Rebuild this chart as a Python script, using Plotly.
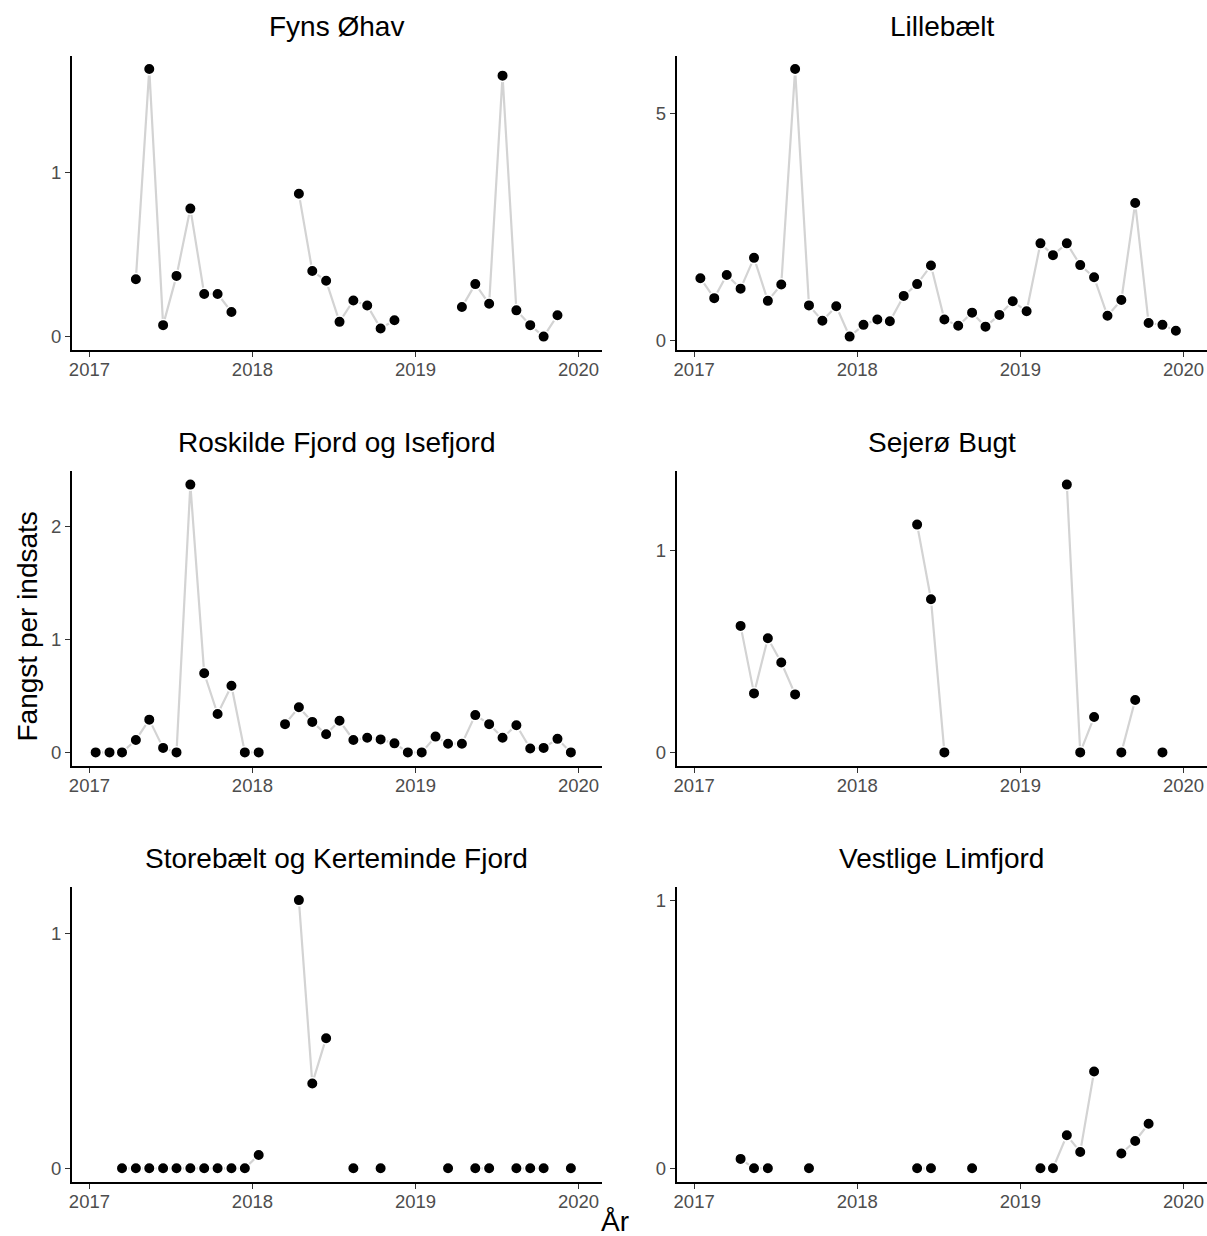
import plotly.graph_objects as go

# ---------------- data ----------------
months = [f"{y}-{m:02d}-15" for y in (2017, 2018, 2019) for m in range(1, 13)]

regions = ["Fyns Øhav", "Lillebælt", "Roskilde Fjord og Isefjord",
           "Sejerø Bugt", "Storebælt og Kerteminde Fjord", "Vestlige Limfjord"]

N = None
fyns_ohav = [N, N, N, 0.35, 1.63, 0.07, 0.37, 0.78, 0.26, 0.26, 0.15, N,
             N, N, N, 0.87, 0.40, 0.34, 0.09, 0.22, 0.19, 0.05, 0.10, N,
             N, N, N, 0.18, 0.32, 0.20, 1.59, 0.16, 0.07, 0.00, 0.13, N]
lillebaelt = [1.37, 0.93, 1.44, 1.14, 1.82, 0.87, 1.23, 5.99, 0.77, 0.43, 0.75, 0.08,
              0.34, 0.46, 0.42, 0.98, 1.24, 1.65, 0.46, 0.32, 0.61, 0.30, 0.56, 0.86,
              0.64, 2.14, 1.88, 2.14, 1.66, 1.39, 0.54, 0.89, 3.03, 0.38, 0.34, 0.21]
roskilde = [0, 0, 0, 0.11, 0.29, 0.04, 0, 2.37, 0.70, 0.34, 0.59, 0,
            0, N, 0.25, 0.40, 0.27, 0.16, 0.28, 0.11, 0.13, 0.115, 0.08, 0,
            0, 0.14, 0.077, 0.077, 0.33, 0.25, 0.13, 0.24, 0.035, 0.04, 0.12, 0]
sejero = [N, N, N, 0.626, 0.292, 0.565, 0.445, 0.287, N, N, N, N,
          N, N, N, N, 1.127, 0.758, 0, N, N, N, N, N,
          N, N, N, 1.325, 0, 0.175, N, 0, 0.259, N, 0, N]
storebaelt = [N, N, 0, 0, 0, 0, 0, 0, 0, 0, 0, 0,
              0.057, N, N, 1.144, 0.362, 0.555, N, 0, N, 0, N, N,
              N, N, 0, N, 0, 0, N, 0, 0, 0, N, 0]
vestlige = [N, N, N, 0.035, 0, 0, N, N, 0, N, N, N,
            N, N, N, N, 0, 0, N, N, 0, N, N, N,
            N, 0, 0, 0.123, 0.061, 0.361, N, 0.055, 0.102, 0.166, N, N]

series = [fyns_ohav, lillebaelt, roskilde, sejero, storebaelt, vestlige]
y_ticks = [[0, 1], [0, 5], [0, 1, 2], [0, 1], [0, 1], [0, 1]]
y_limit_extra = [None, None, None, None, None, 1]   # expand_limits
x_ticks = ["2017-01-01", "2018-01-01", "2019-01-01", "2020-01-01"]
x_tick_labels = ["2017", "2018", "2019", "2020"]

# ---------------- layout geometry ----------------
W, H = 1207, 1236
col_x = [(72, 601.7), (676.7, 1206.7)]
row_y = [(55.7, 350.0), (471.2, 765.8), (886.7, 1181.7)]
title_y = [27, 442.5, 858]
x_range = ["2016-11-23", "2020-02-22"]

FONT = "Liberation Sans, Arial, Helvetica, sans-serif"

fig = go.Figure()
layout = dict(
    width=W, height=H,
    margin=dict(l=0, r=0, t=0, b=0, autoexpand=False),
    paper_bgcolor="white", plot_bgcolor="white",
    showlegend=False,
    font=dict(family=FONT),
)
annotations = []

for i, (name, vals) in enumerate(zip(regions, series)):
    r, c = divmod(i, 2)
    k = "" if i == 0 else str(i + 1)
    xa, ya = "x" + k, "y" + k
    fig.add_trace(go.Scatter(
        x=months, y=vals, xaxis=xa, yaxis=ya,
        mode="lines+markers", connectgaps=False,
        line=dict(color="#D3D3D3", width=2.2),
        marker=dict(color="black", size=11.5, line=dict(color="white", width=1.5)),
        hoverinfo="skip", cliponaxis=False,
    ))
    v = [a for a in vals if a is not None]
    lo = min(v)
    hi = max(v) if y_limit_extra[i] is None else max(max(v), y_limit_extra[i])
    pad = 0.05 * (hi - lo)
    x0, x1 = col_x[c]
    yt, yb = row_y[r]
    axis_common = dict(
        showline=True, linecolor="black", linewidth=1.8,
        ticks="outside", ticklen=5, tickwidth=1.4, tickcolor="#333333",
        showgrid=False, zeroline=False, automargin=False,
        tickfont=dict(size=18.5, color="#4D4D4D", family=FONT),
    )
    layout["xaxis" + k] = dict(
        axis_common, domain=[x0 / W, x1 / W], anchor=ya,
        type="date", range=x_range,
        tickvals=x_ticks, ticktext=x_tick_labels,
        ticklabelstandoff=-3,
    )
    layout["yaxis" + k] = dict(
        axis_common, domain=[1 - yb / H, 1 - yt / H], anchor=xa,
        range=[lo - pad, hi + pad], tickvals=y_ticks[i],
        ticktext=[str(t) for t in y_ticks[i]],
    )
    annotations.append(dict(
        text=name, x=(x0 + x1) / 2 / W, y=1 - title_y[r] / H,
        xref="paper", yref="paper", xanchor="center", yanchor="middle",
        showarrow=False, font=dict(size=28, color="black", family=FONT),
    ))

annotations.append(dict(
    text="Fangst per indsats", x=27 / W, y=1 - 626.5 / H, textangle=-90,
    xref="paper", yref="paper", xanchor="center", yanchor="middle",
    showarrow=False, font=dict(size=28, color="black", family=FONT),
))
annotations.append(dict(
    text="År", x=615 / W, y=0, yshift=-3,
    xref="paper", yref="paper", xanchor="center", yanchor="bottom",
    showarrow=False, font=dict(size=28, color="black", family=FONT),
))
layout["annotations"] = annotations
fig.update_layout(**layout)

fig.write_html(
    "out.html",
    config={"displayModeBar": False},
    post_script="document.body.style.margin='0';document.body.style.overflow='hidden';",
)
